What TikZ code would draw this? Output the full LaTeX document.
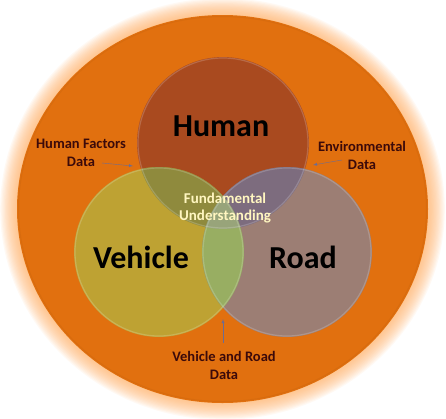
\documentclass[tikz,border=0pt]{standalone}
\usepackage{fontspec}
\setmainfont{Carlito}
\usetikzlibrary{positioning}
\usetikzlibrary{arrows.meta}
\definecolor{ringorange}{HTML}{E1700F}
\definecolor{glowc}{HTML}{FFB060}
\definecolor{humanc}{HTML}{A94A1F}
\definecolor{vehiclec}{HTML}{BEA233}
\definecolor{roadc}{HTML}{9C7E74}
\definecolor{hvc}{HTML}{8F8A3D}
\definecolor{hrc}{HTML}{7D6C7E}
\definecolor{vrc}{HTML}{98AE62}
\definecolor{hvrc}{HTML}{98A47A}
\definecolor{lbltext}{HTML}{3C0A0A}
\definecolor{fundtext}{HTML}{FFF6C0}
\tikzset{
    bigtxt/.style = {font=\bfseries\fontsize{32}{34}\selectfont, text=black},
    smalltxt/.style = {align=center, font=\bfseries\fontsize{14.5}{18}\selectfont, text=lbltext},
    fundtxt/.style = {align=center, font=\bfseries\fontsize{15}{17}\selectfont, text=fundtext},
    rim/.style = {draw=white, draw opacity=0.18, line width=1.2pt},
    edgeg/.style = {-latex, thin, draw=gray!85!blue},
}

\begin{document}
\begin{tikzpicture}[x=1pt, y=-1pt]
  \useasboundingbox (0,0) rectangle (446,418);
  \fill[white] (0,0) rectangle (446,418);
  % glow round the big ring
  \foreach \i in {14,13,...,1}
    \fill[glowc, opacity=0.07] (222.5,209) ellipse ({205.5pt+1.2pt*\i} and {194pt+1.2pt*\i});
  \fill[ringorange] (222.5,209) ellipse (205.5pt and 194pt);
  \draw[ringorange!80!black, opacity=0.2, line width=1pt] (222.5,209) ellipse (204pt and 192.5pt);

  % the three circles
  \coordinate (hc) at (223,143);
  \coordinate (vc) at (159,252);
  \coordinate (rc) at (287,252);
  \fill[humanc]   (hc) circle (86pt);
  \fill[vehiclec] (vc) circle (85pt);
  \fill[roadc]    (rc) circle (85pt);
  % overlaps
  \begin{scope}
    \clip (hc) circle (86pt);
    \fill[hvc] (vc) circle (85pt);
    \fill[hrc] (rc) circle (85pt);
  \end{scope}
  \begin{scope}
    \clip (vc) circle (85pt);
    \fill[vrc] (rc) circle (85pt);
    \clip (rc) circle (85pt);
    \fill[hvrc] (hc) circle (86pt);
  \end{scope}
  \draw[rim] (hc) circle (85pt);
  \draw[rim] (vc) circle (84pt);
  \draw[rim] (rc) circle (84pt);

  % labels
  \node[bigtxt] (human)   at (221,126) {Human};
  \node[bigtxt] (vehicle) at (141,257) {Vehicle};
  \node[bigtxt] (road)    at (303,257) {Road};
  \node[fundtxt] (fund)   at (225,208) {Fundamental\\Understanding};
  \node[smalltxt] (hflbl) at (81,153)  {Human Factors\\Data};
  \node[smalltxt] (envlbl) at (362,155) {Environmental\\Data};
  \node[smalltxt] (vrlbl) at (224,365) {Vehicle and Road\\Data};

  % arrows
  \coordinate (hfs) at (102,163);
  \coordinate (hfe) at (133,166);
  \coordinate (envs) at (342,160);
  \coordinate (enve) at (313,165);
  \coordinate (vrs) at (223,343);
  \coordinate (vre) at (223,319);
  \draw[edgeg] (hfs) -- (hfe);
  \draw[edgeg] (envs) -- (enve);
  \draw[edgeg] (vrs) -- (vre);
\end{tikzpicture}
\end{document}
